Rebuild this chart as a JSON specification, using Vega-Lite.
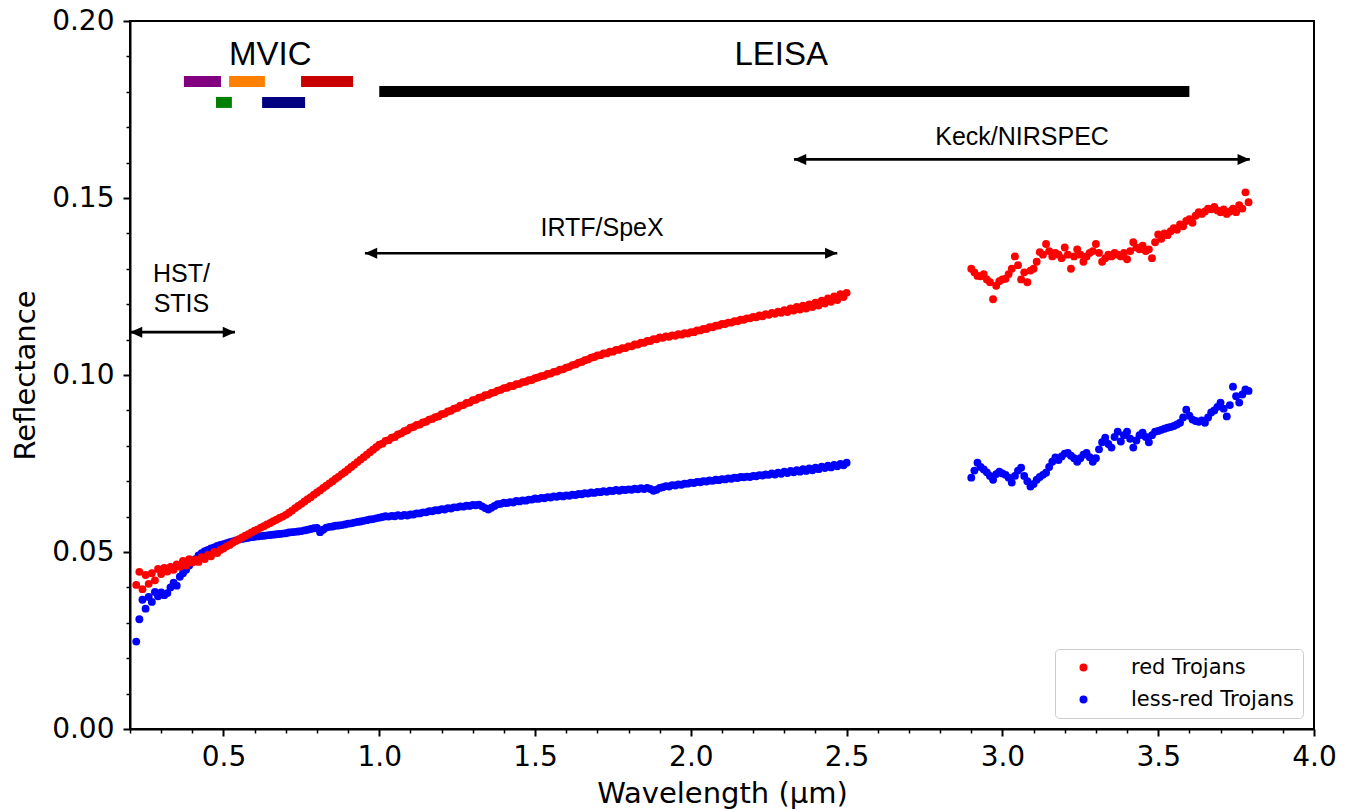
{
"$schema": "https://vega.github.io/schema/vega-lite/v6.json",
"width": 1184, "height": 708,
"autosize": "none",
"padding": {"left": 130, "top": 21, "right": 37, "bottom": 81},
"background": "white",
"config": {
 "view": {"stroke": "black", "strokeWidth": 2},
 "axis": {"labelFont": "DejaVu Sans", "titleFont": "DejaVu Sans", "labelFontSize": 28, "titleFontSize": 29, "titleFontWeight": "normal", "labelColor": "black", "titleColor": "black", "domainColor": "black", "domainWidth": 2, "tickColor": "black", "grid": false}
},
"resolve": {"axis": {"x": "independent", "y": "independent"}},
"datasets": {
 "spectra": [
{"w":0.22,"r":0.0407,"b":0.0247},{"w":0.23,"r":0.0444,"b":0.0310},{"w":0.24,"r":0.0395,"b":0.0365},{"w":0.25,"r":0.0435,"b":0.0340},{"w":0.26,"r":0.0410,"b":0.0373},{"w":0.27,"r":0.0440,"b":0.0359},{"w":0.28,"r":0.0420,"b":0.0387},{"w":0.29,"r":0.0452,"b":0.0375},{"w":0.30,"r":0.0438,"b":0.0386},{"w":0.31,"r":0.0455,"b":0.0378},
{"w":0.32,"r":0.0445,"b":0.0384},{"w":0.33,"r":0.0458,"b":0.0400},{"w":0.34,"r":0.0450,"b":0.0413},{"w":0.35,"r":0.0465,"b":0.0405},{"w":0.36,"r":0.0458,"b":0.0430},{"w":0.37,"r":0.0475,"b":0.0440},{"w":0.38,"r":0.0462,"b":0.0450},{"w":0.39,"r":0.0480,"b":0.0462},{"w":0.40,"r":0.0470,"b":0.0472},{"w":0.41,"r":0.0478,"b":0.0480},
{"w":0.42,"r":0.0472,"b":0.0490},{"w":0.43,"r":0.0485,"b":0.0497},{"w":0.44,"r":0.0480,"b":0.0502},{"w":0.45,"r":0.0492,"b":0.0506},{"w":0.46,"r":0.0488,"b":0.0510},{"w":0.47,"r":0.0500,"b":0.0513},{"w":0.48,"r":0.0497,"b":0.0517},{"w":0.49,"r":0.0506,"b":0.0520},{"w":0.50,"r":0.0510,"b":0.0522},{"w":0.51,"r":0.0516,"b":0.0525},
{"w":0.52,"r":0.0520,"b":0.0528},{"w":0.53,"r":0.0526,"b":0.0530},{"w":0.54,"r":0.0531,"b":0.0533},{"w":0.55,"r":0.0536,"b":0.0535},{"w":0.56,"r":0.0541,"b":0.0537},{"w":0.57,"r":0.0546,"b":0.0539},{"w":0.58,"r":0.0550,"b":0.0540},{"w":0.59,"r":0.0555,"b":0.0542},{"w":0.60,"r":0.0560,"b":0.0543},{"w":0.61,"r":0.0564,"b":0.0544},
{"w":0.62,"r":0.0569,"b":0.0545},{"w":0.63,"r":0.0573,"b":0.0546},{"w":0.64,"r":0.0578,"b":0.0547},{"w":0.65,"r":0.0582,"b":0.0548},{"w":0.66,"r":0.0587,"b":0.0549},{"w":0.67,"r":0.0591,"b":0.0550},{"w":0.68,"r":0.0596,"b":0.0551},{"w":0.69,"r":0.0600,"b":0.0552},{"w":0.70,"r":0.0605,"b":0.0553},{"w":0.71,"r":0.0611,"b":0.0555},
{"w":0.72,"r":0.0617,"b":0.0556},{"w":0.73,"r":0.0624,"b":0.0557},{"w":0.74,"r":0.0630,"b":0.0558},{"w":0.75,"r":0.0636,"b":0.0559},{"w":0.76,"r":0.0643,"b":0.0561},{"w":0.77,"r":0.0649,"b":0.0563},{"w":0.78,"r":0.0655,"b":0.0565},{"w":0.79,"r":0.0662,"b":0.0567},{"w":0.80,"r":0.0668,"b":0.0568},{"w":0.81,"r":0.0674,"b":0.0556},
{"w":0.82,"r":0.0681,"b":0.0563},{"w":0.83,"r":0.0687,"b":0.0569},{"w":0.84,"r":0.0694,"b":0.0571},{"w":0.85,"r":0.0700,"b":0.0572},{"w":0.86,"r":0.0707,"b":0.0574},{"w":0.87,"r":0.0713,"b":0.0575},{"w":0.88,"r":0.0720,"b":0.0576},{"w":0.89,"r":0.0726,"b":0.0578},{"w":0.90,"r":0.0733,"b":0.0580},{"w":0.91,"r":0.0740,"b":0.0581},
{"w":0.92,"r":0.0747,"b":0.0583},{"w":0.93,"r":0.0754,"b":0.0585},{"w":0.94,"r":0.0761,"b":0.0586},{"w":0.95,"r":0.0768,"b":0.0588},{"w":0.96,"r":0.0775,"b":0.0590},{"w":0.97,"r":0.0782,"b":0.0592},{"w":0.98,"r":0.0789,"b":0.0593},{"w":0.99,"r":0.0796,"b":0.0595},{"w":1.00,"r":0.0803,"b":0.0597},{"w":1.01,"r":0.0806,"b":0.0599},
{"w":1.02,"r":0.0814,"b":0.0601},{"w":1.03,"r":0.0816,"b":0.0600},{"w":1.04,"r":0.0823,"b":0.0602},{"w":1.05,"r":0.0825,"b":0.0601},{"w":1.06,"r":0.0832,"b":0.0604},{"w":1.07,"r":0.0835,"b":0.0602},{"w":1.08,"r":0.0841,"b":0.0605},{"w":1.09,"r":0.0844,"b":0.0603},{"w":1.10,"r":0.0851,"b":0.0606},{"w":1.11,"r":0.0853,"b":0.0606},
{"w":1.12,"r":0.0859,"b":0.0609},{"w":1.13,"r":0.0860,"b":0.0609},{"w":1.14,"r":0.0866,"b":0.0612},{"w":1.15,"r":0.0868,"b":0.0612},{"w":1.16,"r":0.0874,"b":0.0615},{"w":1.17,"r":0.0876,"b":0.0615},{"w":1.18,"r":0.0881,"b":0.0618},{"w":1.19,"r":0.0883,"b":0.0618},{"w":1.20,"r":0.0889,"b":0.0621},{"w":1.21,"r":0.0891,"b":0.0620},
{"w":1.22,"r":0.0897,"b":0.0624},{"w":1.23,"r":0.0899,"b":0.0623},{"w":1.24,"r":0.0905,"b":0.0626},{"w":1.25,"r":0.0907,"b":0.0626},{"w":1.26,"r":0.0913,"b":0.0629},{"w":1.27,"r":0.0915,"b":0.0628},{"w":1.28,"r":0.0921,"b":0.0631},{"w":1.29,"r":0.0922,"b":0.0630},{"w":1.30,"r":0.0929,"b":0.0633},{"w":1.31,"r":0.0930,"b":0.0632},
{"w":1.32,"r":0.0936,"b":0.0634},{"w":1.33,"r":0.0937,"b":0.0629},{"w":1.34,"r":0.0943,"b":0.0624},{"w":1.35,"r":0.0944,"b":0.0620},{"w":1.36,"r":0.0949,"b":0.0625},{"w":1.37,"r":0.0951,"b":0.0630},{"w":1.38,"r":0.0956,"b":0.0635},{"w":1.39,"r":0.0958,"b":0.0636},{"w":1.40,"r":0.0963,"b":0.0639},{"w":1.41,"r":0.0964,"b":0.0638},
{"w":1.42,"r":0.0969,"b":0.0641},{"w":1.43,"r":0.0969,"b":0.0640},{"w":1.44,"r":0.0974,"b":0.0644},{"w":1.45,"r":0.0975,"b":0.0643},{"w":1.46,"r":0.0980,"b":0.0646},{"w":1.47,"r":0.0981,"b":0.0645},{"w":1.48,"r":0.0985,"b":0.0648},{"w":1.49,"r":0.0986,"b":0.0648},{"w":1.50,"r":0.0991,"b":0.0651},{"w":1.51,"r":0.0993,"b":0.0650},
{"w":1.52,"r":0.0997,"b":0.0653},{"w":1.53,"r":0.0998,"b":0.0652},{"w":1.54,"r":0.1003,"b":0.0655},{"w":1.55,"r":0.1004,"b":0.0654},{"w":1.56,"r":0.1009,"b":0.0657},{"w":1.57,"r":0.1010,"b":0.0656},{"w":1.58,"r":0.1015,"b":0.0659},{"w":1.59,"r":0.1016,"b":0.0657},{"w":1.60,"r":0.1021,"b":0.0660},{"w":1.61,"r":0.1023,"b":0.0659},
{"w":1.62,"r":0.1028,"b":0.0662},{"w":1.63,"r":0.1030,"b":0.0661},{"w":1.64,"r":0.1035,"b":0.0664},{"w":1.65,"r":0.1037,"b":0.0663},{"w":1.66,"r":0.1042,"b":0.0666},{"w":1.67,"r":0.1044,"b":0.0665},{"w":1.68,"r":0.1049,"b":0.0668},{"w":1.69,"r":0.1051,"b":0.0667},{"w":1.70,"r":0.1055,"b":0.0670},{"w":1.71,"r":0.1056,"b":0.0669},
{"w":1.72,"r":0.1061,"b":0.0672},{"w":1.73,"r":0.1061,"b":0.0670},{"w":1.74,"r":0.1066,"b":0.0673},{"w":1.75,"r":0.1066,"b":0.0672},{"w":1.76,"r":0.1071,"b":0.0675},{"w":1.77,"r":0.1071,"b":0.0673},{"w":1.78,"r":0.1076,"b":0.0676},{"w":1.79,"r":0.1076,"b":0.0675},{"w":1.80,"r":0.1081,"b":0.0677},{"w":1.81,"r":0.1081,"b":0.0676},
{"w":1.82,"r":0.1086,"b":0.0679},{"w":1.83,"r":0.1086,"b":0.0677},{"w":1.84,"r":0.1091,"b":0.0680},{"w":1.85,"r":0.1091,"b":0.0678},{"w":1.86,"r":0.1096,"b":0.0681},{"w":1.87,"r":0.1096,"b":0.0678},{"w":1.88,"r":0.1101,"b":0.0673},{"w":1.89,"r":0.1101,"b":0.0676},{"w":1.90,"r":0.1106,"b":0.0681},{"w":1.91,"r":0.1105,"b":0.0683},
{"w":1.92,"r":0.1109,"b":0.0686},{"w":1.93,"r":0.1108,"b":0.0685},{"w":1.94,"r":0.1112,"b":0.0689},{"w":1.95,"r":0.1111,"b":0.0688},{"w":1.96,"r":0.1115,"b":0.0691},{"w":1.97,"r":0.1114,"b":0.0690},{"w":1.98,"r":0.1118,"b":0.0693},{"w":1.99,"r":0.1117,"b":0.0693},{"w":2.00,"r":0.1121,"b":0.0696},{"w":2.01,"r":0.1121,"b":0.0695},
{"w":2.02,"r":0.1126,"b":0.0698},{"w":2.03,"r":0.1126,"b":0.0697},{"w":2.04,"r":0.1130,"b":0.0700},{"w":2.05,"r":0.1130,"b":0.0699},{"w":2.06,"r":0.1135,"b":0.0702},{"w":2.07,"r":0.1135,"b":0.0701},{"w":2.08,"r":0.1139,"b":0.0704},{"w":2.09,"r":0.1140,"b":0.0703},{"w":2.10,"r":0.1144,"b":0.0706},{"w":2.11,"r":0.1144,"b":0.0705},
{"w":2.12,"r":0.1148,"b":0.0708},{"w":2.13,"r":0.1148,"b":0.0707},{"w":2.14,"r":0.1152,"b":0.0710},{"w":2.15,"r":0.1152,"b":0.0709},{"w":2.16,"r":0.1156,"b":0.0712},{"w":2.17,"r":0.1156,"b":0.0711},{"w":2.18,"r":0.1160,"b":0.0713},{"w":2.19,"r":0.1160,"b":0.0712},{"w":2.20,"r":0.1164,"b":0.0715},{"w":2.21,"r":0.1163,"b":0.0714},
{"w":2.22,"r":0.1168,"b":0.0717},{"w":2.23,"r":0.1166,"b":0.0716},{"w":2.24,"r":0.1172,"b":0.0719},{"w":2.25,"r":0.1170,"b":0.0718},{"w":2.26,"r":0.1175,"b":0.0722},{"w":2.27,"r":0.1173,"b":0.0719},{"w":2.28,"r":0.1179,"b":0.0724},{"w":2.29,"r":0.1176,"b":0.0721},{"w":2.30,"r":0.1183,"b":0.0727},{"w":2.31,"r":0.1178,"b":0.0723},
{"w":2.32,"r":0.1188,"b":0.0729},{"w":2.33,"r":0.1182,"b":0.0725},{"w":2.34,"r":0.1192,"b":0.0731},{"w":2.35,"r":0.1185,"b":0.0727},{"w":2.36,"r":0.1196,"b":0.0734},{"w":2.37,"r":0.1188,"b":0.0729},{"w":2.38,"r":0.1199,"b":0.0736},{"w":2.39,"r":0.1192,"b":0.0731},{"w":2.40,"r":0.1204,"b":0.0738},{"w":2.41,"r":0.1196,"b":0.0734},
{"w":2.42,"r":0.1210,"b":0.0741},{"w":2.43,"r":0.1202,"b":0.0737},{"w":2.44,"r":0.1216,"b":0.0744},{"w":2.45,"r":0.1207,"b":0.0739},{"w":2.46,"r":0.1222,"b":0.0746},{"w":2.47,"r":0.1212,"b":0.0742},{"w":2.48,"r":0.1228,"b":0.0749},{"w":2.49,"r":0.1220,"b":0.0745},{"w":2.50,"r":0.1232,"b":0.0752},
{"w":2.90,"r":0.1300,"b":0.0710},{"w":2.91,"r":0.1290,"b":0.0730},{"w":2.92,"r":0.1280,"b":0.0752},{"w":2.93,"r":0.1279,"b":0.0740},{"w":2.94,"r":0.1285,"b":0.0733},{"w":2.95,"r":0.1270,"b":0.0725},{"w":2.96,"r":0.1262,"b":0.0715},{"w":2.97,"r":0.1214,"b":0.0704},{"w":2.98,"r":0.1252,"b":0.0720},{"w":2.99,"r":0.1265,"b":0.0727},
{"w":3.00,"r":0.1270,"b":0.0722},{"w":3.01,"r":0.1272,"b":0.0718},{"w":3.02,"r":0.1285,"b":0.0710},{"w":3.03,"r":0.1300,"b":0.0696},{"w":3.04,"r":0.1335,"b":0.0715},{"w":3.05,"r":0.1310,"b":0.0730},{"w":3.06,"r":0.1270,"b":0.0738},{"w":3.07,"r":0.1290,"b":0.0715},{"w":3.08,"r":0.1262,"b":0.0700},{"w":3.09,"r":0.1295,"b":0.0685},
{"w":3.10,"r":0.1300,"b":0.0692},{"w":3.11,"r":0.1320,"b":0.0704},{"w":3.12,"r":0.1347,"b":0.0712},{"w":3.13,"r":0.1340,"b":0.0718},{"w":3.14,"r":0.1370,"b":0.0724},{"w":3.15,"r":0.1350,"b":0.0740},{"w":3.16,"r":0.1335,"b":0.0755},{"w":3.17,"r":0.1345,"b":0.0767},{"w":3.18,"r":0.1340,"b":0.0760},{"w":3.19,"r":0.1330,"b":0.0770},
{"w":3.20,"r":0.1360,"b":0.0778},{"w":3.21,"r":0.1340,"b":0.0780},{"w":3.22,"r":0.1300,"b":0.0772},{"w":3.23,"r":0.1335,"b":0.0765},{"w":3.24,"r":0.1355,"b":0.0755},{"w":3.25,"r":0.1340,"b":0.0765},{"w":3.26,"r":0.1320,"b":0.0775},{"w":3.27,"r":0.1335,"b":0.0780},{"w":3.28,"r":0.1345,"b":0.0768},{"w":3.29,"r":0.1350,"b":0.0755},
{"w":3.30,"r":0.1370,"b":0.0765},{"w":3.31,"r":0.1345,"b":0.0790},{"w":3.32,"r":0.1320,"b":0.0810},{"w":3.33,"r":0.1330,"b":0.0823},{"w":3.34,"r":0.1340,"b":0.0805},{"w":3.35,"r":0.1335,"b":0.0795},{"w":3.36,"r":0.1345,"b":0.0825},{"w":3.37,"r":0.1340,"b":0.0840},{"w":3.38,"r":0.1335,"b":0.0812},{"w":3.39,"r":0.1345,"b":0.0830},
{"w":3.40,"r":0.1327,"b":0.0840},{"w":3.41,"r":0.1350,"b":0.0820},{"w":3.42,"r":0.1375,"b":0.0795},{"w":3.43,"r":0.1360,"b":0.0815},{"w":3.44,"r":0.1355,"b":0.0830},{"w":3.45,"r":0.1365,"b":0.0837},{"w":3.46,"r":0.1350,"b":0.0825},{"w":3.47,"r":0.1355,"b":0.0810},{"w":3.48,"r":0.1330,"b":0.0830},{"w":3.49,"r":0.1375,"b":0.0840},
{"w":3.50,"r":0.1397,"b":0.0842},{"w":3.51,"r":0.1385,"b":0.0845},{"w":3.52,"r":0.1400,"b":0.0848},{"w":3.53,"r":0.1395,"b":0.0851},{"w":3.54,"r":0.1406,"b":0.0853},{"w":3.55,"r":0.1415,"b":0.0856},{"w":3.56,"r":0.1410,"b":0.0860},{"w":3.57,"r":0.1425,"b":0.0865},{"w":3.58,"r":0.1420,"b":0.0880},{"w":3.59,"r":0.1435,"b":0.0902},
{"w":3.60,"r":0.1440,"b":0.0885},{"w":3.61,"r":0.1430,"b":0.0874},{"w":3.62,"r":0.1450,"b":0.0870},{"w":3.63,"r":0.1460,"b":0.0868},{"w":3.64,"r":0.1455,"b":0.0872},{"w":3.65,"r":0.1462,"b":0.0865},{"w":3.66,"r":0.1470,"b":0.0880},{"w":3.67,"r":0.1468,"b":0.0894},{"w":3.68,"r":0.1475,"b":0.0900},{"w":3.69,"r":0.1465,"b":0.0910},
{"w":3.70,"r":0.1460,"b":0.0922},{"w":3.71,"r":0.1468,"b":0.0905},{"w":3.72,"r":0.1455,"b":0.0883},{"w":3.73,"r":0.1462,"b":0.0915},{"w":3.74,"r":0.1470,"b":0.0967},{"w":3.75,"r":0.1460,"b":0.0940},{"w":3.76,"r":0.1480,"b":0.0922},{"w":3.77,"r":0.1470,"b":0.0945},{"w":3.78,"r":0.1516,"b":0.0959},{"w":3.79,"r":0.1488,"b":0.0955}
 ],
 "bars": [
  {"f":"violet","x1":0.373,"x2":0.492,"y":0.1829},
  {"f":"orange","x1":0.518,"x2":0.633,"y":0.1829},
  {"f":"nir","x1":0.749,"x2":0.916,"y":0.1829},
  {"f":"green","x1":0.476,"x2":0.527,"y":0.1770},
  {"f":"red","x1":0.624,"x2":0.762,"y":0.1770},
  {"f":"LEISA","x1":1.0,"x2":3.6,"y":0.1801}
 ],
 "arrows": [
  {"x1":0.2,"x2":0.537,"y":0.1121},
  {"x1":0.954,"x2":2.47,"y":0.1344},
  {"x1":2.331,"x2":3.794,"y":0.1609}
 ],
 "labels": [
  {"t":"MVIC","x":0.65,"y":0.1905,"g":"instrument"},
  {"t":"LEISA","x":2.29,"y":0.1905,"g":"instrument"},
  {"t":"HST/","x":0.365,"y":0.1285,"g":"source"},
  {"t":"STIS","x":0.365,"y":0.1200,"g":"source"},
  {"t":"IRTF/SpeX","x":1.715,"y":0.1415,"g":"source"},
  {"t":"Keck/NIRSPEC","x":3.063,"y":0.1672,"g":"source"}
 ]
},
"layer": [
 {
  "data": {"name": "spectra"},
  "mark": {"type": "point", "filled": true, "size": 62, "opacity": 1},
  "encoding": {
   "x": {"field": "w", "type": "quantitative", "title": "Wavelength (μm)",
     "scale": {"domain": [0.2, 4.0], "nice": false, "zero": false},
     "axis": {"orient": "bottom", "values": [0.5,1.0,1.5,2.0,2.5,3.0,3.5,4.0], "format": ".1f",
       "labelOverlap": false, "labelFlush": false, "labelBound": false,
       "tickSize": 7, "tickWidth": 2, "labelPadding": 7, "titlePadding": 8}},
   "y": {"field": "b", "type": "quantitative", "title": "Reflectance",
     "scale": {"domain": [0, 0.2], "nice": false},
     "axis": {"orient": "left", "values": [0,0.05,0.1,0.15,0.2], "format": ".2f",
       "labelOverlap": false, "labelFlush": false, "labelBound": false,
       "tickSize": 7, "tickWidth": 2, "labelPadding": 9, "titlePadding": 11}},
   "color": {"datum": "less-red Trojans", "type": "nominal",
     "scale": {"domain": ["red Trojans", "less-red Trojans"], "range": ["#ff0000", "#0000ff"]},
     "legend": {"title": null, "orient": "bottom-right", "offset": 11, "labelFont": "DejaVu Sans", "labelFontSize": 21, "labelColor": "black", "labelLimit": 400, "symbolType": "circle", "symbolSize": 64, "symbolStrokeWidth": 0, "symbolOffset": 10, "labelOffset": 37, "padding": 8, "rowPadding": 10, "strokeColor": "#cccccc", "fillColor": "rgba(255,255,255,0.8)", "cornerRadius": 4}}
  }
 },
 {
  "data": {"name": "spectra"},
  "mark": {"type": "point", "filled": true, "size": 62, "opacity": 1},
  "encoding": {
   "x": {"field": "w", "type": "quantitative",
     "axis": {"orient": "bottom", "title": null, "labels": false, "domain": false, "values": [0.2,0.3,0.4,0.6,0.7,0.8,0.9,1.1,1.2,1.3,1.4,1.6,1.7,1.8,1.9,2.1,2.2,2.3,2.4,2.6,2.7,2.8,2.9,3.1,3.2,3.3,3.4,3.6,3.7,3.8,3.9], "tickSize": 4, "tickWidth": 1.5}},
   "y": {"field": "r", "type": "quantitative",
     "axis": {"orient": "left", "title": null, "labels": false, "domain": false, "values": [0.01,0.02,0.03,0.04,0.06,0.07,0.08,0.09,0.11,0.12,0.13,0.14,0.16,0.17,0.18,0.19], "tickSize": 4, "tickWidth": 1.5}},
   "color": {"datum": "red Trojans", "type": "nominal"}
  }
 },
 {
  "data": {"name": "bars"},
  "mark": {"type": "rule", "strokeWidth": 11, "strokeCap": "butt"},
  "encoding": {
   "x": {"field": "x1", "type": "quantitative", "axis": null},
   "x2": {"field": "x2"},
   "y": {"field": "y", "type": "quantitative", "axis": null},
   "stroke": {"field": "f", "type": "nominal", "legend": null, "scale": {"domain": ["violet","orange","nir","green","red","LEISA"], "range": ["#800080","#ff8000","#c80000","#008000","#000080","#000000"]}}
  }
 },
 {
  "data": {"name": "arrows"},
  "mark": {"type": "rule", "strokeWidth": 2.6, "color": "black"},
  "encoding": {
   "x": {"field": "x1", "type": "quantitative", "axis": null},
   "x2": {"field": "x2"},
   "y": {"field": "y", "type": "quantitative", "axis": null}
  }
 },
 {
  "data": {"name": "arrows"},
  "mark": {"type": "point", "shape": "M0,0L1,-0.45L1,0.45Z", "size": 600, "filled": true, "color": "black", "opacity": 1},
  "encoding": {
   "x": {"field": "x1", "type": "quantitative", "axis": null},
   "y": {"field": "y", "type": "quantitative", "axis": null}
  }
 },
 {
  "data": {"name": "arrows"},
  "mark": {"type": "point", "shape": "M0,0L-1,-0.45L-1,0.45Z", "size": 600, "filled": true, "color": "black", "opacity": 1},
  "encoding": {
   "x": {"field": "x2", "type": "quantitative", "axis": null},
   "y": {"field": "y", "type": "quantitative", "axis": null}
  }
 },
 {
  "data": {"name": "labels"},
  "transform": [{"filter": "datum.g == 'instrument'"}],
  "mark": {"type": "text", "font": "Liberation Sans", "fontSize": 33, "align": "center", "baseline": "middle", "color": "black"},
  "encoding": {
   "x": {"field": "x", "type": "quantitative", "axis": null},
   "y": {"field": "y", "type": "quantitative", "axis": null},
   "text": {"field": "t"}
  }
 },
 {
  "data": {"name": "labels"},
  "transform": [{"filter": "datum.g == 'source'"}],
  "mark": {"type": "text", "font": "Liberation Sans", "fontSize": 25, "align": "center", "baseline": "middle", "color": "black"},
  "encoding": {
   "x": {"field": "x", "type": "quantitative", "axis": null},
   "y": {"field": "y", "type": "quantitative", "axis": null},
   "text": {"field": "t"}
  }
 }
]
}
